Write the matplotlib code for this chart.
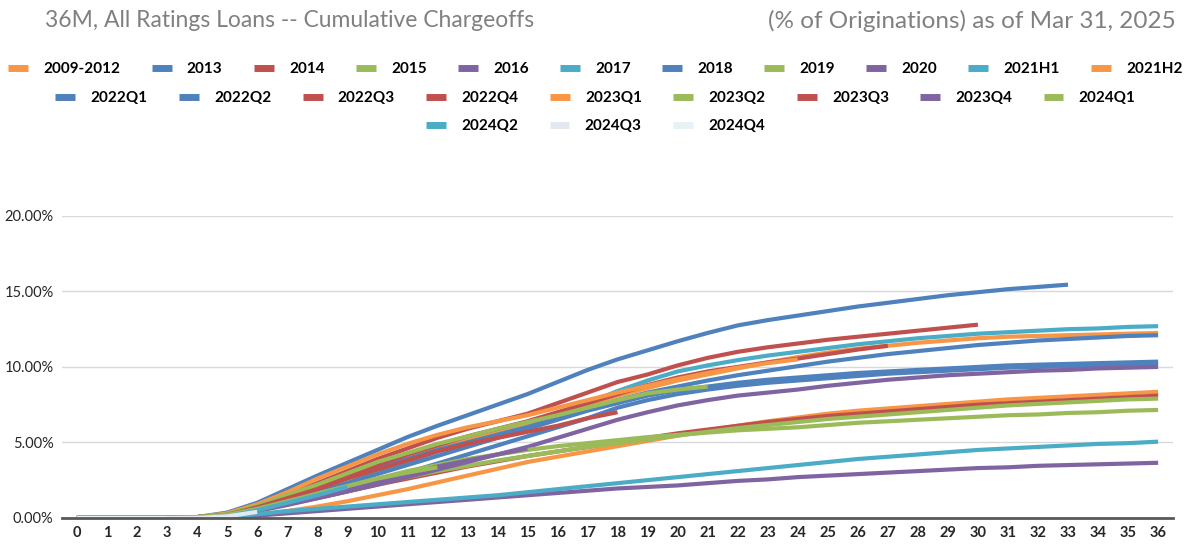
import numpy as np
import matplotlib
matplotlib.use('Agg')
import matplotlib.pyplot as plt
from matplotlib.lines import Line2D

plt.rcParams['font.family'] = ['Lato', 'DejaVu Sans']

# Cumulative chargeoffs (% of originations) by month on book
months = list(range(0, 37))

vintages = ['2009-2012', '2013', '2014', '2015', '2016', '2017', '2018', '2019', '2020',
            '2021H1', '2021H2', '2022Q1', '2022Q2', '2022Q3', '2022Q4', '2023Q1', '2023Q2',
            '2023Q3', '2023Q4', '2024Q1', '2024Q2', '2024Q3', '2024Q4']

v2009_2012 = [0, 0, 0, 0, 0.05, 0.05, 0.2, 0.45, 0.75, 1.1, 1.5, 1.9, 2.35, 2.8, 3.25, 3.7, 4.05, 4.4, 4.75,
              5.1, 5.45, 5.8, 6.1, 6.4, 6.65, 6.9, 7.1, 7.25, 7.4, 7.55, 7.7, 7.85, 7.95, 8.05, 8.15, 8.25, 8.35]
v2013 = [0, 0, 0, 0, 0.05, 0.15, 0.5, 1.0, 1.5, 2.0, 2.5, 3.0, 3.6, 4.2, 4.8, 5.4, 6.0, 6.6, 7.3,
         7.8, 8.2, 8.5, 8.75, 8.95, 9.1, 9.25, 9.4, 9.55, 9.65, 9.75, 9.85, 9.95, 10.0, 10.05, 10.1, 10.15, 10.2]
v2014 = [0, 0, 0, 0, 0.05, 0.2, 0.5, 0.9, 1.3, 1.75, 2.2, 2.6, 3.0, 3.4, 3.75, 4.1, 4.4, 4.7, 5.0,
         5.3, 5.6, 5.85, 6.1, 6.35, 6.55, 6.75, 6.9, 7.05, 7.2, 7.35, 7.5, 7.6, 7.7, 7.8, 7.9, 8.0, 8.1]
v2015 = [0, 0, 0, 0, 0.05, 0.2, 0.55, 0.95, 1.4, 1.85, 2.3, 2.7, 3.1, 3.45, 3.8, 4.1, 4.4, 4.7, 4.95,
         5.2, 5.45, 5.7, 5.95, 6.15, 6.35, 6.55, 6.7, 6.85, 7.0, 7.15, 7.3, 7.45, 7.55, 7.65, 7.75, 7.85, 7.9]
v2016 = [0, 0, 0, 0, 0.05, 0.15, 0.45, 0.85, 1.3, 1.75, 2.2, 2.7, 3.2, 3.7, 4.2, 4.7, 5.3, 5.9, 6.5,
         7.0, 7.45, 7.8, 8.1, 8.3, 8.5, 8.75, 8.95, 9.15, 9.3, 9.45, 9.55, 9.65, 9.75, 9.8, 9.9, 9.95, 10.0]
v2017 = [0, 0, 0, 0, 0.05, 0.2, 0.6, 1.1, 1.7, 2.3, 3.0, 3.7, 4.4, 5.0, 5.6, 6.2, 6.9, 7.6, 8.4,
         9.1, 9.7, 10.1, 10.45, 10.75, 11.0, 11.25, 11.5, 11.7, 11.9, 12.05, 12.2, 12.3, 12.4, 12.5, 12.55, 12.65, 12.7]
v2018 = [0, 0, 0, 0, 0.05, 0.2, 0.6, 1.1, 1.7, 2.3, 2.9, 3.5, 4.1, 4.7, 5.3, 5.9, 6.5, 7.1, 7.6,
         8.1, 8.45, 8.7, 8.95, 9.15, 9.3, 9.45, 9.6, 9.7, 9.8, 9.9, 10.0, 10.1, 10.15, 10.2, 10.25, 10.3, 10.35]
v2019 = [0, 0, 0, 0, 0.05, 0.25, 0.65, 1.1, 1.6, 2.1, 2.6, 3.1, 3.5, 3.9, 4.2, 4.5, 4.75, 4.95, 5.15,
         5.35, 5.5, 5.65, 5.8, 5.9, 6.0, 6.15, 6.3, 6.4, 6.5, 6.6, 6.7, 6.8, 6.85, 6.95, 7.0, 7.1, 7.15]
v2020 = [0, 0, 0, 0, 0, 0.05, 0.15, 0.3, 0.45, 0.6, 0.75, 0.9, 1.05, 1.2, 1.35, 1.5, 1.65, 1.8, 1.95,
         2.05, 2.15, 2.3, 2.45, 2.55, 2.7, 2.8, 2.9, 3.0, 3.1, 3.2, 3.3, 3.35, 3.45, 3.5, 3.55, 3.6, 3.65]
v2021h1 = [0, 0, 0, 0, 0, 0.05, 0.25, 0.45, 0.6, 0.75, 0.9, 1.05, 1.2, 1.35, 1.5, 1.7, 1.9, 2.1, 2.3,
           2.5, 2.7, 2.9, 3.1, 3.3, 3.5, 3.7, 3.9, 4.05, 4.2, 4.35, 4.5, 4.6, 4.7, 4.8, 4.9, 4.95, 5.05]
v2021h2 = [0, 0, 0, 0, 0.05, 0.2, 0.7, 1.3, 2.0, 2.7, 3.4, 4.0, 4.6, 5.2, 5.8, 6.3, 6.9, 7.5, 8.1,
           8.6, 9.1, 9.5, 9.9, 10.3, 10.65, 10.95, 11.2, 11.4, 11.6, 11.75, 11.9, 12.0, 12.05, 12.1, 12.15, 12.2, 12.25]
v2022q1 = [0, 0, 0, 0, 0.05, 0.25, 0.7, 1.3, 2.0, 2.7, 3.3, 3.9, 4.5, 5.0, 5.5, 6.0, 6.6, 7.2, 7.8,
           8.3, 8.7, 9.1, 9.45, 9.75, 10.05, 10.35, 10.6, 10.85, 11.05, 11.25, 11.45, 11.6, 11.75, 11.85, 11.95, 12.05, 12.1]
v2022q2 = [0, 0, 0, 0, 0.05, 0.35, 1.0, 1.9, 2.8, 3.65, 4.5, 5.35, 6.1, 6.8, 7.5, 8.2, 9.0, 9.8, 10.5,
           11.1, 11.7, 12.25, 12.75, 13.1, 13.4, 13.7, 14.0, 14.25, 14.5, 14.75, 14.95, 15.15, 15.3, 15.45]
v2022q3 = [0, 0, 0, 0, 0.05, 0.25, 0.8, 1.5, 2.3, 3.1, 3.9, 4.6, 5.3, 5.9, 6.4, 6.9, 7.6, 8.3, 9.0,
           9.5, 10.1, 10.6, 11.0, 11.3, 11.55, 11.8, 12.0, 12.2, 12.4, 12.6, 12.8]
v2022q4 = [0, 0, 0, 0, 0.05, 0.2, 0.7, 1.4, 2.1, 2.8, 3.5, 4.2, 4.8, 5.4, 5.9, 6.4, 7.0, 7.6, 8.2,
           8.8, 9.3, 9.7, 10.0, 10.3, 10.55, 10.85, 11.15, 11.4]
v2023q1 = [0, 0, 0, 0, 0.05, 0.3, 0.9, 1.7, 2.6, 3.4, 4.2, 4.9, 5.5, 6.0, 6.4, 6.8, 7.3, 7.8, 8.3,
           8.75, 9.2, 9.6, 9.95, 10.25, 10.5]
v2023q2 = [0, 0, 0, 0, 0.05, 0.25, 0.8, 1.5, 2.2, 2.95, 3.7, 4.3, 4.9, 5.4, 5.9, 6.35, 6.8, 7.3, 7.8,
           8.25, 8.5, 8.7]
v2023q3 = [0, 0, 0, 0, 0.05, 0.2, 0.7, 1.3, 1.9, 2.6, 3.2, 3.8, 4.4, 4.9, 5.3, 5.7, 6.1, 6.6, 7.0]
v2023q4 = [0, 0, 0, 0, 0.05, 0.15, 0.5, 1.0, 1.5, 2.0, 2.4, 2.8, 3.4, 3.8, 4.2, 4.6]
v2024q1 = [0, 0, 0, 0, 0.05, 0.2, 0.6, 1.1, 1.6, 2.1, 2.6, 3.0, 3.35]
v2024q2 = [0, 0, 0, 0, 0, 0.1, 0.5, 1.0, 1.5, 2.05]
v2024q3 = [0, 0, 0, 0, 0, 0.1, 0.4]
v2024q4 = [0, 0, 0, 0]

series = [v2009_2012, v2013, v2014, v2015, v2016, v2017, v2018, v2019, v2020, v2021h1, v2021h2,
          v2022q1, v2022q2, v2022q3, v2022q4, v2023q1, v2023q2, v2023q3, v2023q4, v2024q1,
          v2024q2, v2024q3, v2024q4]

# Office 2007 palette, cycled like Excel does
blue, red, green, purple, cyan, orange = '#4F81BD', '#C0504D', '#9BBB59', '#8064A2', '#4BACC6', '#F79646'
colors = [orange, blue, red, green, purple, cyan, blue, green, purple, cyan, orange,
          blue, blue, red, red, orange, green, red, purple, green, cyan, '#E4E8F0', '#E6F2F5']

fig = plt.figure(figsize=(11.91, 5.44), dpi=100)
ax = fig.add_axes([0.052, 0.048, 0.933, 0.555])

for vals, col in zip(series, colors):
    ax.plot(months[:len(vals)], vals, color=col, lw=3, solid_capstyle='butt')

ax.set_xlim(-0.5, 36.5)
ax.set_ylim(0, 20)
ax.set_xticks(months)
ax.set_yticks([0, 5, 10, 15, 20])
ax.set_yticklabels([f'{v:.2f}%' for v in [0, 5, 10, 15, 20]])
ax.yaxis.grid(True, color='#D9D9D9', lw=1)
ax.set_axisbelow(True)
for s in ['top', 'right', 'left']:
    ax.spines[s].set_visible(False)
ax.spines['bottom'].set_color('#595959')
ax.spines['bottom'].set_linewidth(2)
ax.tick_params(length=0)
ax.tick_params(axis='x', labelsize=10.5, pad=6, colors='#262626')
ax.tick_params(axis='y', labelsize=10.5, pad=6, colors='#262626')
for lab in ax.get_xticklabels():
    lab.set_fontweight('bold')

fig.text(0.038, 0.962, '36M, All Ratings Loans -- Cumulative Chargeoffs', fontsize=16.5,
         color='#808080', va='center', ha='left')
fig.text(0.987, 0.962, '(% of Originations) as of Mar 31, 2025', fontsize=17.5,
         color='#808080', va='center', ha='right')

handles = [Line2D([], [], color=c, lw=5, solid_capstyle='butt') for c in colors]
rows = [(0, 11, 0.873), (11, 20, 0.820), (20, 23, 0.768)]
for a, b, y in rows:
    fig.legend(handles[a:b], vintages[a:b], ncol=b - a, loc='center', bbox_to_anchor=(0.5, y),
               frameon=False, prop={'size': 11, 'weight': 'bold'}, handlelength=1.3,
               handletextpad=1.0, columnspacing=2.05, borderpad=0, borderaxespad=0)

plt.savefig('out.png', dpi=100)
